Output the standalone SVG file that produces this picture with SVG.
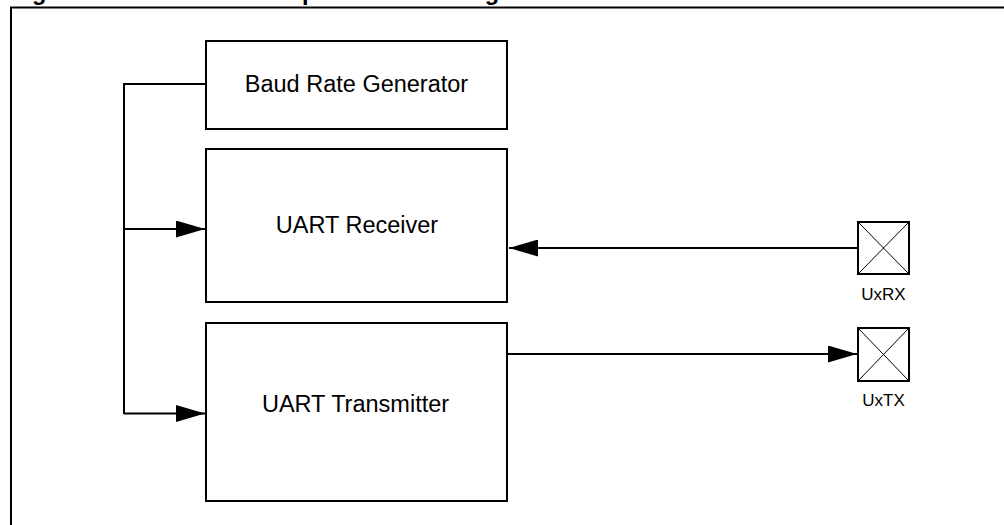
<svg xmlns="http://www.w3.org/2000/svg" width="1004" height="525" viewBox="0 0 1004 525">
<style>
.box{fill:#fff;stroke:#000;stroke-width:2}
.pin{fill:#fff;stroke:#000;stroke-width:2}
.diag{stroke:#000;stroke-width:1;fill:none}
.wire{stroke:#000;stroke-width:2;fill:none}
.lbl{font-family:"Liberation Sans",Arial,sans-serif;font-size:23.5px;fill:#000;text-anchor:middle}
.pinlbl{font-family:"Liberation Sans",Arial,sans-serif;font-size:17px;fill:#000;text-anchor:middle}
.title{font-family:"Liberation Sans",Arial,sans-serif;font-size:23.5px;font-weight:bold;fill:#000}
</style>
<defs>
<marker id="arr" markerUnits="userSpaceOnUse" markerWidth="29" markerHeight="17" refX="29" refY="8.5" orient="auto">
<path d="M0,0 L29,8.5 L0,17 Z" fill="#000"/>
</marker>
</defs>
<rect width="1004" height="525" fill="#fff"/>
<g id="title">
<text class="title" x="11" y="-0.5">Figure 17-1:</text>
<text class="title" x="187" y="-0.5">UART Simplified Block Diagram</text>
</g>
<g id="frame">
<path d="M11,525 V7.5 H1004" fill="none" stroke="#000" stroke-width="2"/>
</g>
<g id="baud">
<rect class="box" x="206" y="41" width="301" height="88"/>
<text class="lbl" x="356.5" y="91.5">Baud Rate Generator</text>
</g>
<g id="receiver">
<rect class="box" x="206" y="149" width="301" height="153"/>
<text class="lbl" x="357" y="233">UART Receiver</text>
</g>
<g id="transmitter">
<rect class="box" x="206" y="323" width="301" height="178"/>
<text class="lbl" x="355.5" y="411.5">UART Transmitter</text>
</g>
<g id="uxrx">
<rect class="pin" x="858" y="222" width="51" height="52"/>
<path class="diag" d="M858,222 L909,274 M909,222 L858,274"/>
<text class="pinlbl" x="883.5" y="300">UxRX</text>
</g>
<g id="uxtx">
<rect class="pin" x="858" y="328" width="51" height="53"/>
<path class="diag" d="M858,328 L909,381 M909,328 L858,381"/>
<text class="pinlbl" x="883.5" y="406">UxTX</text>
</g>
<g id="connectors">
<path class="wire" d="M206,84 H124 V414"/>
<path class="wire" d="M124,229 H205" marker-end="url(#arr)"/>
<path class="wire" d="M124,413.5 H205" marker-end="url(#arr)"/>
<path class="wire" d="M857,248 H509" marker-end="url(#arr)"/>
<path class="wire" d="M508,354 H857" marker-end="url(#arr)"/>
</g>
</svg>
